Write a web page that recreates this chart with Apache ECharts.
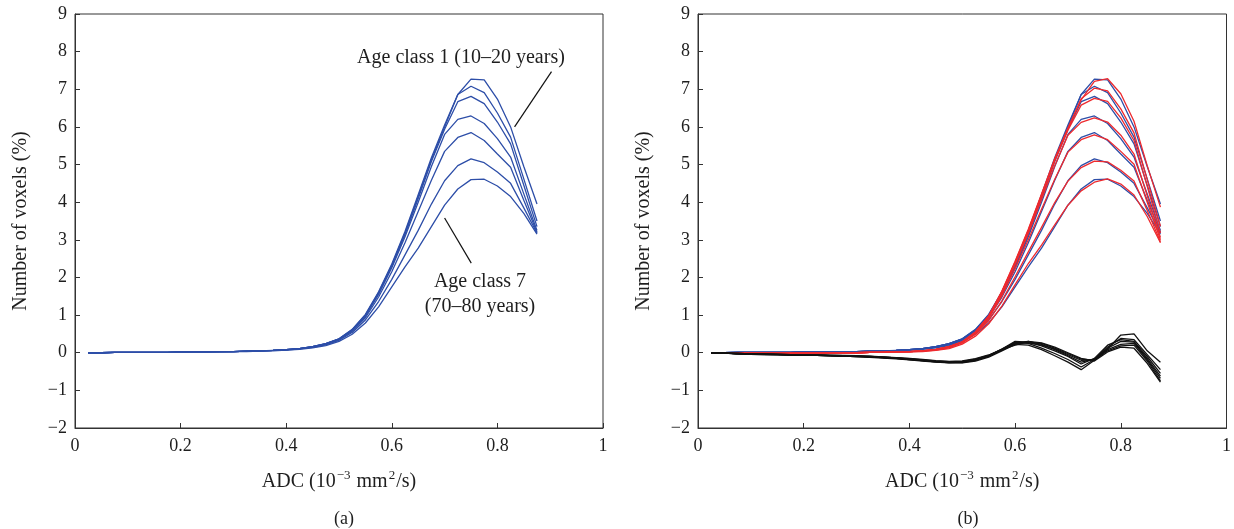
<!DOCTYPE html>
<html>
<head>
<meta charset="utf-8">
<script src="https://cdn.jsdelivr.net/npm/echarts@6/dist/echarts.min.js"></script>
<style>
  html, body { margin: 0; padding: 0; background: #fff; }
  #chart { width: 1234px; height: 529px; }
</style>
</head>
<body>
<div id="chart"></div>
<script>
// ADC bin centres (10^-3 mm^2/s)
const adc = [0.025,0.05,0.075,0.1,0.125,0.15,0.175,0.2,0.225,0.25,0.275,0.3,0.325,0.35,0.375,0.4,0.425,0.45,0.475,0.5,0.525,0.55,0.575,0.6,0.625,0.65,0.675,0.7,0.725,0.75,0.775,0.8,0.825,0.85,0.875];

// Measured ADC histograms, age classes 1..7 (% of voxels)
const measured1 = [0.00,0.00,0.01,0.01,0.01,0.01,0.01,0.02,0.02,0.02,0.03,0.03,0.04,0.05,0.06,0.08,0.11,0.16,0.24,0.37,0.62,1.02,1.62,2.36,3.22,4.20,5.18,6.05,6.86,7.27,7.25,6.74,6.00,4.95,3.95];
const measured2 = [0.00,0.00,0.01,0.01,0.01,0.01,0.01,0.02,0.02,0.02,0.03,0.03,0.04,0.05,0.06,0.08,0.11,0.16,0.24,0.37,0.61,1.00,1.60,2.33,3.18,4.15,5.13,6.00,6.86,7.08,6.91,6.37,5.73,4.62,3.50];
const measured3 = [0.00,0.00,0.01,0.01,0.01,0.01,0.01,0.02,0.02,0.02,0.03,0.03,0.04,0.05,0.06,0.08,0.11,0.16,0.24,0.36,0.60,0.99,1.58,2.30,3.14,4.10,5.08,5.94,6.67,6.81,6.62,6.13,5.55,4.45,3.35];
const measured4 = [0.00,0.00,0.01,0.01,0.01,0.01,0.01,0.02,0.02,0.02,0.03,0.03,0.04,0.05,0.06,0.08,0.11,0.16,0.23,0.36,0.59,0.97,1.55,2.26,3.08,4.00,4.95,5.80,6.20,6.29,6.09,5.69,5.20,4.22,3.25];
const measured5 = [0.00,0.00,0.01,0.01,0.01,0.01,0.01,0.02,0.02,0.02,0.03,0.03,0.04,0.05,0.06,0.08,0.11,0.15,0.23,0.35,0.57,0.93,1.48,2.15,2.92,3.75,4.58,5.35,5.72,5.85,5.64,5.28,4.93,4.05,3.20];
const measured6 = [0.00,0.00,0.01,0.01,0.01,0.01,0.01,0.02,0.02,0.02,0.02,0.03,0.04,0.05,0.06,0.07,0.10,0.14,0.21,0.33,0.54,0.87,1.36,1.95,2.60,3.25,3.95,4.57,4.97,5.15,5.05,4.80,4.50,3.85,3.18];
const measured7 = [0.00,0.00,0.01,0.01,0.01,0.01,0.01,0.01,0.02,0.02,0.02,0.03,0.03,0.04,0.05,0.07,0.09,0.13,0.19,0.30,0.49,0.79,1.22,1.75,2.28,2.78,3.35,3.92,4.35,4.60,4.61,4.43,4.15,3.70,3.15];

// Model fits for the same age classes
const fitted1 = [0.00,0.00,0.00,0.00,0.00,0.00,0.00,0.00,0.00,0.00,0.00,0.00,0.01,0.01,0.02,0.03,0.05,0.09,0.16,0.29,0.55,0.98,1.64,2.43,3.28,4.22,5.16,5.97,6.72,7.21,7.28,6.88,6.15,4.97,3.87];
const fitted2 = [0.00,0.00,0.00,0.00,0.00,0.00,0.00,0.00,0.00,0.00,0.00,0.00,0.01,0.01,0.02,0.03,0.05,0.09,0.16,0.29,0.55,0.97,1.62,2.41,3.26,4.19,5.12,5.95,6.75,7.03,6.96,6.48,5.84,4.60,3.36];
const fitted3 = [0.00,0.00,0.00,0.00,0.00,0.00,0.00,0.00,0.00,0.00,0.00,0.00,0.01,0.01,0.02,0.03,0.05,0.09,0.16,0.28,0.55,0.97,1.61,2.39,3.22,4.15,5.10,5.91,6.58,6.76,6.68,6.24,5.64,4.42,3.18];
const fitted4 = [0.00,0.00,0.00,0.00,0.00,0.00,0.00,0.00,0.00,0.00,0.00,0.00,0.01,0.01,0.02,0.03,0.05,0.09,0.15,0.28,0.53,0.94,1.57,2.34,3.17,4.07,4.97,5.78,6.12,6.24,6.13,5.78,5.28,4.17,3.06];
const fitted5 = [0.00,0.00,0.00,0.00,0.00,0.00,0.00,0.00,0.00,0.00,0.00,0.00,0.01,0.01,0.02,0.03,0.05,0.08,0.15,0.28,0.52,0.91,1.51,2.23,3.00,3.81,4.61,5.33,5.66,5.79,5.66,5.35,5.01,4.00,3.00];
const fitted6 = [0.00,0.00,0.00,0.00,0.00,0.00,0.00,0.00,0.00,0.00,0.00,0.00,0.01,0.01,0.02,0.02,0.04,0.07,0.13,0.26,0.49,0.85,1.38,2.02,2.68,3.33,3.99,4.56,4.92,5.09,5.07,4.85,4.56,3.78,2.95];
const fitted7 = [0.00,0.00,0.00,0.00,0.00,0.00,0.00,0.00,0.00,0.00,0.00,0.00,0.01,0.01,0.02,0.02,0.03,0.06,0.11,0.23,0.44,0.77,1.24,1.81,2.37,2.86,3.40,3.92,4.30,4.53,4.62,4.48,4.19,3.62,2.92];

// Scaled residuals (fit minus measurement)
const residual1 = [0.00,-0.01,-0.03,-0.04,-0.05,-0.05,-0.06,-0.06,-0.07,-0.08,-0.09,-0.10,-0.12,-0.14,-0.16,-0.19,-0.22,-0.25,-0.27,-0.27,-0.22,-0.12,0.05,0.22,0.20,0.08,-0.08,-0.25,-0.45,-0.20,0.10,0.47,0.50,0.05,-0.25];
const residual2 = [0.00,-0.01,-0.03,-0.04,-0.04,-0.05,-0.06,-0.06,-0.07,-0.08,-0.09,-0.10,-0.11,-0.13,-0.15,-0.18,-0.21,-0.24,-0.26,-0.26,-0.20,-0.10,0.08,0.28,0.25,0.12,-0.02,-0.18,-0.38,-0.18,0.15,0.38,0.35,-0.05,-0.45];
const residual3 = [0.00,-0.01,-0.02,-0.03,-0.04,-0.05,-0.05,-0.06,-0.07,-0.07,-0.08,-0.09,-0.11,-0.12,-0.14,-0.17,-0.20,-0.23,-0.25,-0.25,-0.18,-0.08,0.10,0.30,0.28,0.18,0.05,-0.10,-0.30,-0.15,0.20,0.35,0.30,-0.10,-0.55];
const residual4 = [0.00,-0.01,-0.03,-0.04,-0.05,-0.05,-0.06,-0.07,-0.07,-0.08,-0.09,-0.10,-0.11,-0.13,-0.15,-0.18,-0.21,-0.24,-0.26,-0.25,-0.19,-0.09,0.08,0.26,0.30,0.22,0.08,-0.08,-0.25,-0.17,0.12,0.30,0.28,-0.15,-0.62];
const residual5 = [0.00,-0.01,-0.02,-0.03,-0.04,-0.04,-0.05,-0.06,-0.06,-0.07,-0.08,-0.09,-0.10,-0.12,-0.14,-0.17,-0.20,-0.23,-0.25,-0.24,-0.17,-0.07,0.10,0.27,0.26,0.20,0.10,-0.05,-0.20,-0.19,0.08,0.22,0.25,-0.18,-0.68];
const residual6 = [0.00,-0.01,-0.02,-0.03,-0.04,-0.05,-0.05,-0.06,-0.06,-0.07,-0.08,-0.09,-0.10,-0.12,-0.14,-0.16,-0.19,-0.22,-0.24,-0.23,-0.18,-0.08,0.07,0.24,0.27,0.25,0.12,-0.02,-0.17,-0.20,0.05,0.18,0.20,-0.22,-0.75];
const residual7 = [0.00,-0.01,-0.02,-0.03,-0.03,-0.04,-0.05,-0.05,-0.06,-0.07,-0.07,-0.08,-0.09,-0.11,-0.13,-0.15,-0.18,-0.21,-0.23,-0.22,-0.16,-0.06,0.08,0.20,0.30,0.26,0.15,0.00,-0.15,-0.22,0.02,0.15,0.12,-0.28,-0.78];

// Axis ticks
const xTicks = [0, 0.2, 0.4, 0.6, 0.8, 1];
const yMin = -2, yMax = 9, yStep = 1;

const measured = [measured1, measured2, measured3, measured4, measured5, measured6, measured7];
const fitted = [fitted1, fitted2, fitted3, fitted4, fitted5, fitted6, fitted7];
const residual = [residual1, residual2, residual3, residual4, residual5, residual6, residual7];

const BLUE = '#2d4ea8';
const RED = '#ee2a2e';
const BLACK = '#111111';
const AXIS = '#333333';
const TEXT = '#1e1e1e';
const FONT = '"Liberation Serif", "DejaVu Serif", serif';

const pair = ys => ys.map((y, i) => [adc[i], y]);

function lineSeries(name, ys, color, gridIdx, z) {
  return {
    name, type: 'line', xAxisIndex: gridIdx, yAxisIndex: gridIdx,
    data: pair(ys), symbol: 'none', smooth: false, z,
    lineStyle: { color, width: 1.3 }, emphasis: { disabled: true },
    animation: false
  };
}

function xAxisFor(gridIndex) {
  return {
    type: 'value', gridIndex, min: xTicks[0], max: xTicks[xTicks.length - 1], interval: 0.2,
    axisLine: { show: true, onZero: false, lineStyle: { color: AXIS, width: 1 } },
    axisTick: { show: true, inside: true, length: 5, lineStyle: { color: AXIS } },
    splitLine: { show: false },
    axisLabel: {
      fontFamily: FONT, fontSize: 18, color: TEXT, margin: 9,
      formatter: v => (v === 0 || v === 1) ? String(v) : v.toFixed(1)
    },
    name: 'ADC (10{sup|−3} mm{sup|2}/s)',
    nameLocation: 'middle', nameGap: 41,
    nameTextStyle: {
      fontFamily: FONT, fontSize: 20, color: TEXT, lineHeight: 26,
      rich: { sup: { fontFamily: FONT, fontSize: 13, color: TEXT, verticalAlign: 'top', lineHeight: 13, padding: [0, 1, 0, 1] } }
    }
  };
}

function yAxisFor(gridIndex) {
  return {
    type: 'value', gridIndex, min: yMin, max: yMax, interval: yStep,
    axisLine: { show: true, onZero: false, lineStyle: { color: AXIS, width: 1 } },
    axisTick: { show: true, inside: true, length: 5, lineStyle: { color: AXIS } },
    splitLine: { show: false },
    axisLabel: {
      fontFamily: FONT, fontSize: 18, color: TEXT, margin: 8,
      formatter: v => v < 0 ? '−' + Math.abs(v) : String(v)
    },
    name: 'Number of voxels (%)',
    nameLocation: 'middle', nameGap: 44,
    nameTextStyle: { fontFamily: FONT, fontSize: 20, color: TEXT }
  };
}

const series = [];
measured.forEach((ys, i) => series.push(lineSeries('Age class ' + (i + 1), ys, BLUE, 0, 2)));
measured.forEach((ys, i) => {
  series.push(lineSeries('Age class ' + (i + 1) + ' measured', ys, BLUE, 1, 2));
  series.push(lineSeries('Age class ' + (i + 1) + ' fit', fitted[i], RED, 1, 3));
});
residual.forEach((ys, i) => series.push(lineSeries('Age class ' + (i + 1) + ' residual', ys, BLACK, 1, 4)));

const chart = echarts.init(document.getElementById('chart'), null, { renderer: 'canvas' });
chart.setOption({
  backgroundColor: '#ffffff',
  animation: false,
  grid: [
    { left: 75, top: 14, width: 528, height: 414, show: true, borderColor: AXIS, borderWidth: 1, backgroundColor: 'transparent' },
    { left: 698, top: 14, width: 530, height: 414, show: true, borderColor: AXIS, borderWidth: 1, backgroundColor: 'transparent' }
  ],
  xAxis: [xAxisFor(0), xAxisFor(1)],
  yAxis: [yAxisFor(0), yAxisFor(1)],
  title: [
    { text: '(a)', left: 339, top: 505, textAlign: 'center', textStyle: { fontFamily: FONT, fontSize: 18, fontWeight: 'normal', color: TEXT } },
    { text: '(b)', left: 963, top: 505, textAlign: 'center', textStyle: { fontFamily: FONT, fontSize: 18, fontWeight: 'normal', color: TEXT } }
  ],
  series
});

// Annotations for panel (a), anchored in data coordinates
const notes = [
  { text: 'Age class 1 (10–20 years)', at: [0.731, 7.85], lineFrom: [0.9025, 7.47], lineTo: [0.8325, 6.0] },
  { text: 'Age class 7\n(70–80 years)', at: [0.767, 1.55], lineFrom: [0.70, 3.58], lineTo: [0.7505, 2.38] }
];
const graphic = [];
notes.forEach(n => {
  const p = chart.convertToPixel({ gridIndex: 0 }, n.at);
  const a = chart.convertToPixel({ gridIndex: 0 }, n.lineFrom);
  const b = chart.convertToPixel({ gridIndex: 0 }, n.lineTo);
  graphic.push({
    type: 'line', shape: { x1: a[0], y1: a[1], x2: b[0], y2: b[1] },
    style: { stroke: '#111', lineWidth: 1.2 }, z: 10
  });
  graphic.push({
    type: 'text', x: p[0], y: p[1], z: 10,
    style: { text: n.text, fill: TEXT, font: '20px ' + FONT, textAlign: 'center', textVerticalAlign: 'middle', lineHeight: 25 }
  });
});
chart.setOption({ graphic });
</script>
</body>
</html>
